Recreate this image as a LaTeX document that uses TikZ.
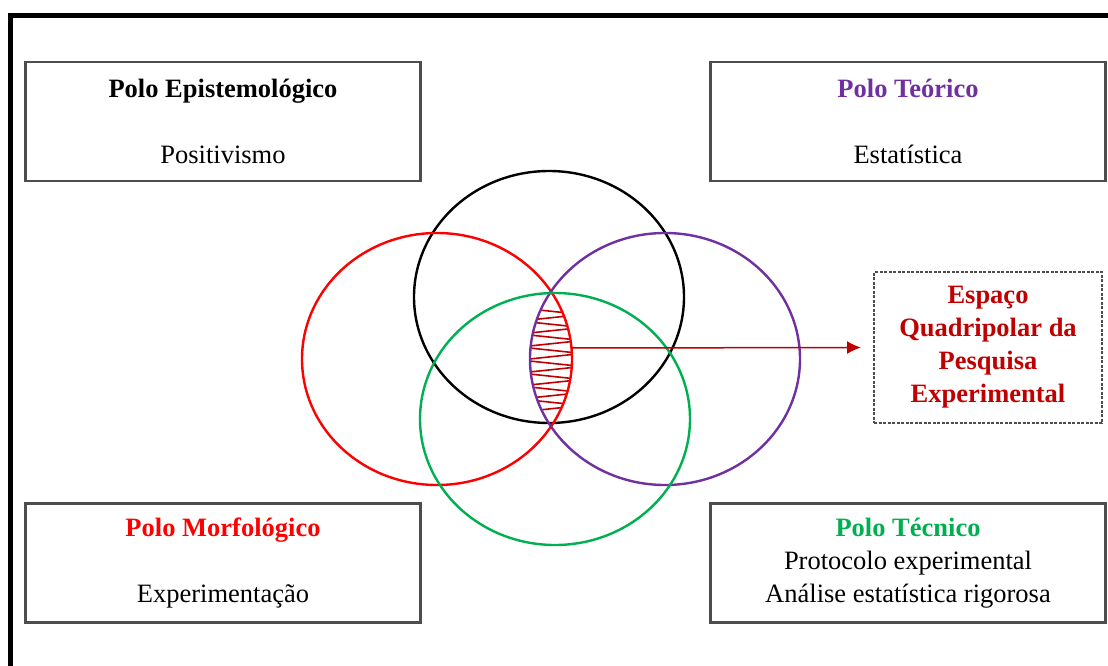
\documentclass[tikz,border=0pt]{standalone}
\usepackage{fontspec}
\setmainfont{Liberation Serif}
\usetikzlibrary{arrows.meta}
\definecolor{polopurple}{HTML}{7030A0}
\definecolor{pologreen}{HTML}{00B050}
\definecolor{polored}{HTML}{FF0000}
\definecolor{darkred}{HTML}{C00000}
\definecolor{boxgrey}{HTML}{4D4D4D}

\begin{document}
\begin{tikzpicture}[x=1pt, y=-1pt]
            \tikzset{pole/.style={draw=boxgrey, line width=2.4pt, minimum width=395pt, minimum height=119pt, inner sep=0pt, align=center, font=\fontsize{26.5}{33}\selectfont}}
            \tikzset{ring/.style={line width=2.4pt}}
            \useasboundingbox (0, 0) rectangle (1108, 666);
            \draw[line width=5pt] (10, 15.5) rectangle (1140, 700);
            \node[pole] (epist) at (223, 121.5) {\textbf{Polo Epistemológico}\\[33pt]Positivismo};
            \node[pole] (teor) at (908, 121.5) {\textbf{\color{polopurple}Polo Teórico}\\[33pt]Estatística};
            \node[pole] (morf) at (223, 563) {\textbf{\color{polored}Polo Morfológico}\\[33pt]Experimentação};
            \node[pole] (tecn) at (908, 563) {\textbf{\color{pologreen}Polo Técnico}\\Protocolo experimental\\Análise estatística rigorosa};
            \draw[ring, black] (549, 297) ellipse[x radius=135pt, y radius=126pt];
            \draw[ring, polored] (437, 359) ellipse[x radius=135pt, y radius=126pt];
            \draw[ring, polopurple] (665, 359) ellipse[x radius=135pt, y radius=126pt];
            \draw[ring, pologreen] (555, 419) ellipse[x radius=135pt, y radius=126pt];
            \begin{scope}
                \clip (437, 359) ellipse[x radius=134pt, y radius=125pt];
                \clip (665, 359) ellipse[x radius=134pt, y radius=125pt];
                \draw[darkred, line width=1.6pt] (520, 308)
                    \foreach \i in {1,...,16} { -- ({ifthenelse(isodd(\i), 582, 520)}, {308 + 6.5*\i}) };
            \end{scope}
            \node[draw=boxgrey, dash pattern=on 3pt off 1.5pt, line width=2pt, minimum width=228pt, minimum height=151pt, inner sep=0pt, align=center, text=darkred, font=\bfseries\fontsize{26.5}{33}\selectfont] (espaco) at (988, 347.5) {Espaço\\Quadripolar da\\Pesquisa\\Experimental};
            \coordinate (lens) at (571, 348);
            \draw[darkred, line width=1.5pt, ->, >={Latex[length=14pt, width=13pt]}, shorten >=12pt] (lens) -- (espaco.west);
        \end{tikzpicture}
\end{document}
